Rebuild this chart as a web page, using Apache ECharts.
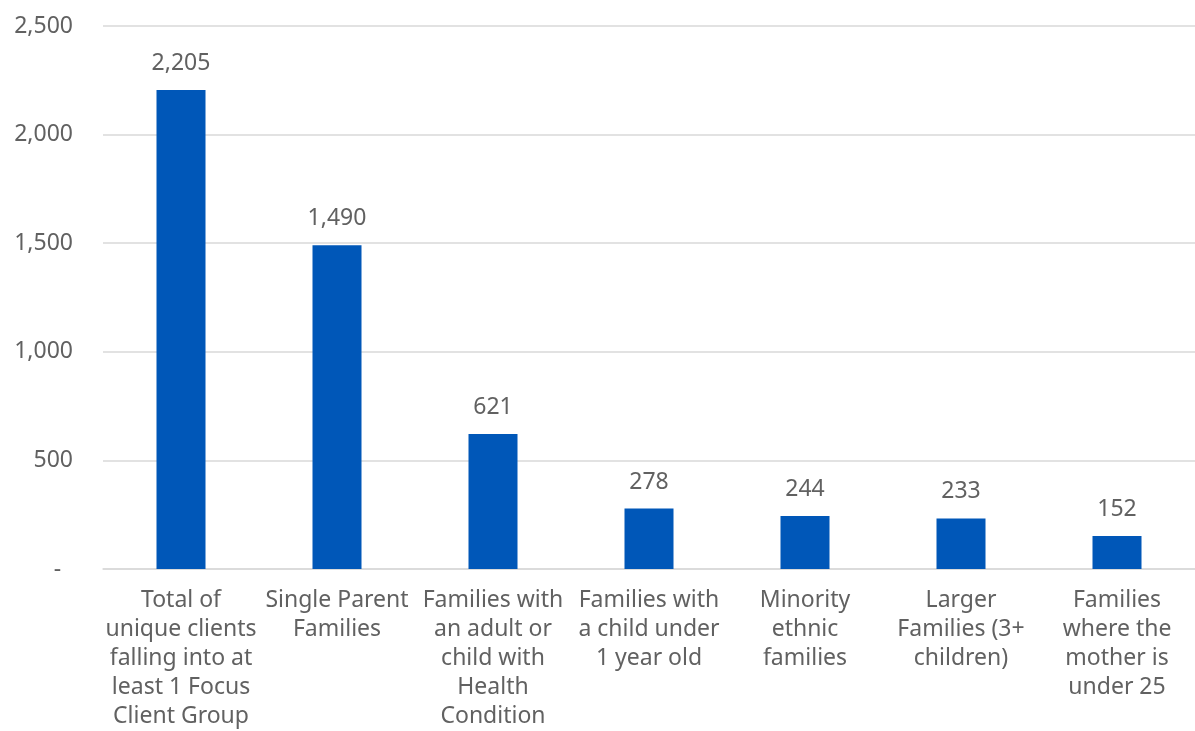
<!DOCTYPE html>
<html>
<head>
<meta charset="utf-8">
<script src="https://cdn.jsdelivr.net/npm/echarts@6/dist/echarts.min.js"></script>
<style>html,body{margin:0;padding:0;background:#fff}#c{width:1195px;height:731px}</style>
</head>
<body>
<div id="c"></div>
<script>
const categories = [
  "Total of\nunique clients\nfalling into at\nleast 1 Focus\nClient Group",
  "Single Parent\nFamilies",
  "Families with\nan adult or\nchild with\nHealth\nCondition",
  "Families with\na child under\n1 year old",
  "Minority\nethnic\nfamilies",
  "Larger\nFamilies (3+\nchildren)",
  "Families\nwhere the\nmother is\nunder 25"
];
const values = [2205, 1490, 621, 278, 244, 233, 152];
const yTickValues = [0, 500, 1000, 1500, 2000, 2500];
const yTickLabels = ["-  ", "500", "1,000", "1,500", "2,000", "2,500"];

const FONT = "Noto Sans";
const TXT = '#616161';
const chart = echarts.init(document.getElementById('c'));
chart.setOption({
  animation: false,
  grid: { left: 103, width: 1097, top: 26, bottom: 161, containLabel: false },
  xAxis: {
    type: 'category',
    data: categories,
    axisLine: { show: true, lineStyle: { color: '#d9d9d9', width: 1.5 } },
    axisTick: { show: false },
    axisLabel: {
      interval: 0, margin: 17, color: TXT, fontFamily: FONT, fontSize: 23, lineHeight: 29
    }
  },
  yAxis: {
    type: 'value', min: 0, max: 2500, interval: 500,
    axisLine: { show: false }, axisTick: { show: false },
    splitLine: { lineStyle: { color: '#d9d9d9', width: 1.5 } },
    axisLabel: {
      margin: 30, color: TXT, fontFamily: FONT, fontSize: 23,
      formatter: v => { const i = yTickValues.indexOf(v); return i >= 0 ? yTickLabels[i] : ''; }
    }
  },
  series: [{
    type: 'bar',
    data: values,
    barWidth: 49,
    itemStyle: { color: '#0057b8' },
    label: {
      show: true, position: 'top', distance: 15, color: TXT, fontFamily: FONT, fontSize: 23,
      formatter: p => p.value.toLocaleString('en-US')
    }
  }]
});
</script>
</body>
</html>
